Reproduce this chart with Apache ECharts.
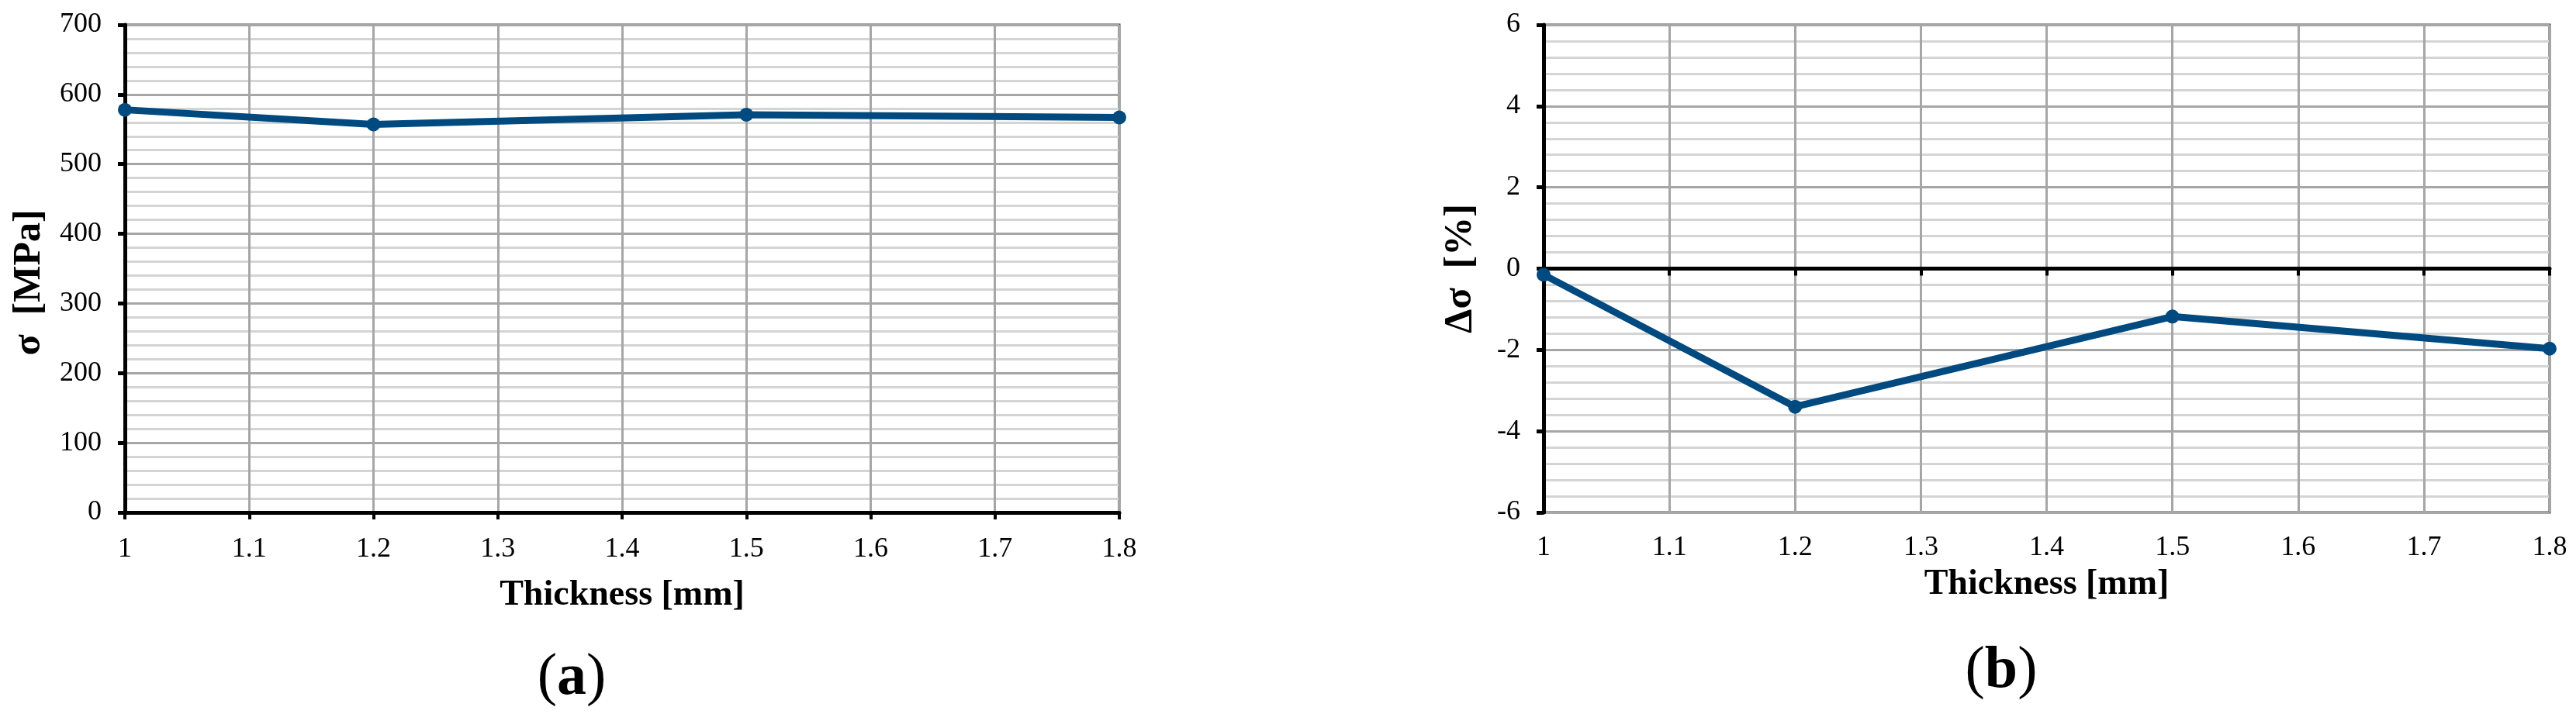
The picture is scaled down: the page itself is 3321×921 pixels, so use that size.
<!DOCTYPE html>
<html>
<head>
<meta charset="utf-8">
<script src="https://cdn.jsdelivr.net/npm/echarts@6/dist/echarts.min.js"></script>
<style>
  html, body { margin: 0; padding: 0; background: #fff; }
  #chart { width: 3321px; height: 921px; }
</style>
</head>
<body>
<div id="chart"></div>
<script>
// thickness values (mm) and measured results
const thickness = [1, 1.2, 1.5, 1.8];
const stressMPa = [578, 557, 571, 567];
const stressDiffPct = [-0.15, -3.4, -1.18, -1.97];

const FONT = '"Liberation Serif", "Times New Roman", serif';
const LINE_COLOR = "#004a80";

function pairs(xs, ys) {
    return xs.map((x, i) => [x, ys[i]]);
}

function fmtX(v) {
    return String(Math.round(v * 10) / 10);
}

const yAxisBase = {
    type: "value",
    axisLine: { show: true, lineStyle: { color: "#000", width: 5 } },
    axisTick: { show: true, inside: false, length: 9, lineStyle: { color: "#000", width: 5 } },
    axisLabel: { fontFamily: FONT, fontSize: 36, color: "#000", margin: 30 },
    splitLine: { show: true, lineStyle: { color: "#a6a6a6", width: 3 } },
    minorTick: { show: false, splitNumber: 5 },
    minorSplitLine: { show: true, lineStyle: { color: "#d4d4d4", width: 3 } },
    nameLocation: "middle",
    nameTextStyle: { fontFamily: FONT, fontSize: 50, fontWeight: "bold", color: "#000" }
};

const chart = echarts.init(document.getElementById("chart"), null, { renderer: "canvas" });

chart.setOption({
    backgroundColor: "#fff",
    animation: false,
    grid: [
        { left: 161, right: 1878, top: 32, bottom: 260, show: true, borderColor: "#404040", borderWidth: 3 },
        { left: 1990, right: 34, top: 32, bottom: 260, show: true, borderColor: "#404040", borderWidth: 3 }
    ],
    xAxis: [
        {
            type: "value", gridIndex: 0, min: 1, max: 1.8, interval: 0.1,
            axisLine: { show: true, lineStyle: { color: "#000", width: 5 } },
            axisTick: { show: true, length: 9, lineStyle: { color: "#000", width: 4 } },
            axisLabel: { fontFamily: FONT, fontSize: 36, color: "#000", margin: 30, formatter: fmtX },
            splitLine: { show: true, lineStyle: { color: "#a6a6a6", width: 3 } },
            name: "Thickness [mm]", nameLocation: "middle", nameGap: 84,
            nameTextStyle: { fontFamily: FONT, fontSize: 46, fontWeight: "bold", color: "#000" }
        },
        {
            type: "value", gridIndex: 1, min: 1, max: 1.8, interval: 0.1, position: "bottom",
            axisLine: { show: false, onZero: false },
            axisTick: { show: false },
            axisLabel: { fontFamily: FONT, fontSize: 36, color: "#000", margin: 28, formatter: fmtX },
            splitLine: { show: true, lineStyle: { color: "#a6a6a6", width: 3 } },
            name: "Thickness [mm]", nameLocation: "middle", nameGap: 70,
            nameTextStyle: { fontFamily: FONT, fontSize: 46, fontWeight: "bold", color: "#000" }
        },
        {
            type: "value", gridIndex: 1, min: 1, max: 1.8, interval: 0.1, position: "bottom",
            axisLine: { show: true, onZero: true, lineStyle: { color: "#000", width: 5 } },
            axisTick: { show: true, length: 9, lineStyle: { color: "#000", width: 4 } },
            axisLabel: { show: false },
            splitLine: { show: false }
        }
    ],
    yAxis: [
        Object.assign({}, yAxisBase, {
            gridIndex: 0, min: 0, max: 700, interval: 100,
            name: "σ  [MPa]", nameGap: 98,
            nameTextStyle: Object.assign({}, yAxisBase.nameTextStyle, { padding: [0, 36, 0, 0] })
        }),
        Object.assign({}, yAxisBase, {
            gridIndex: 1, min: -6, max: 6, interval: 2,
            name: "Δσ  [%]", nameGap: 82
        })
    ],
    series: [
        {
            type: "line", xAxisIndex: 0, yAxisIndex: 0,
            data: pairs(thickness, stressMPa),
            symbol: "circle", symbolSize: 18,
            lineStyle: { color: LINE_COLOR, width: 9 },
            itemStyle: { color: LINE_COLOR },
            z: 5
        },
        {
            type: "line", xAxisIndex: 1, yAxisIndex: 1,
            data: pairs(thickness, stressDiffPct),
            symbol: "circle", symbolSize: 18,
            lineStyle: { color: LINE_COLOR, width: 9 },
            itemStyle: { color: LINE_COLOR },
            z: 5
        }
    ],
    graphic: [
        {
            type: "text", x: 737, y: 875,
            style: {
                text: "{r|(}{b|a}{r|)}", align: "center", verticalAlign: "middle",
                rich: {
                    r: { fontFamily: FONT, fontSize: 76, fill: "#000" },
                    b: { fontFamily: FONT, fontSize: 76, fontWeight: "bold", fill: "#000" }
                }
            }
        },
        {
            type: "text", x: 2580, y: 866,
            style: {
                text: "{r|(}{b|b}{r|)}", align: "center", verticalAlign: "middle",
                rich: {
                    r: { fontFamily: FONT, fontSize: 76, fill: "#000" },
                    b: { fontFamily: FONT, fontSize: 76, fontWeight: "bold", fill: "#000" }
                }
            }
        }
    ]
});
</script>
</body>
</html>
